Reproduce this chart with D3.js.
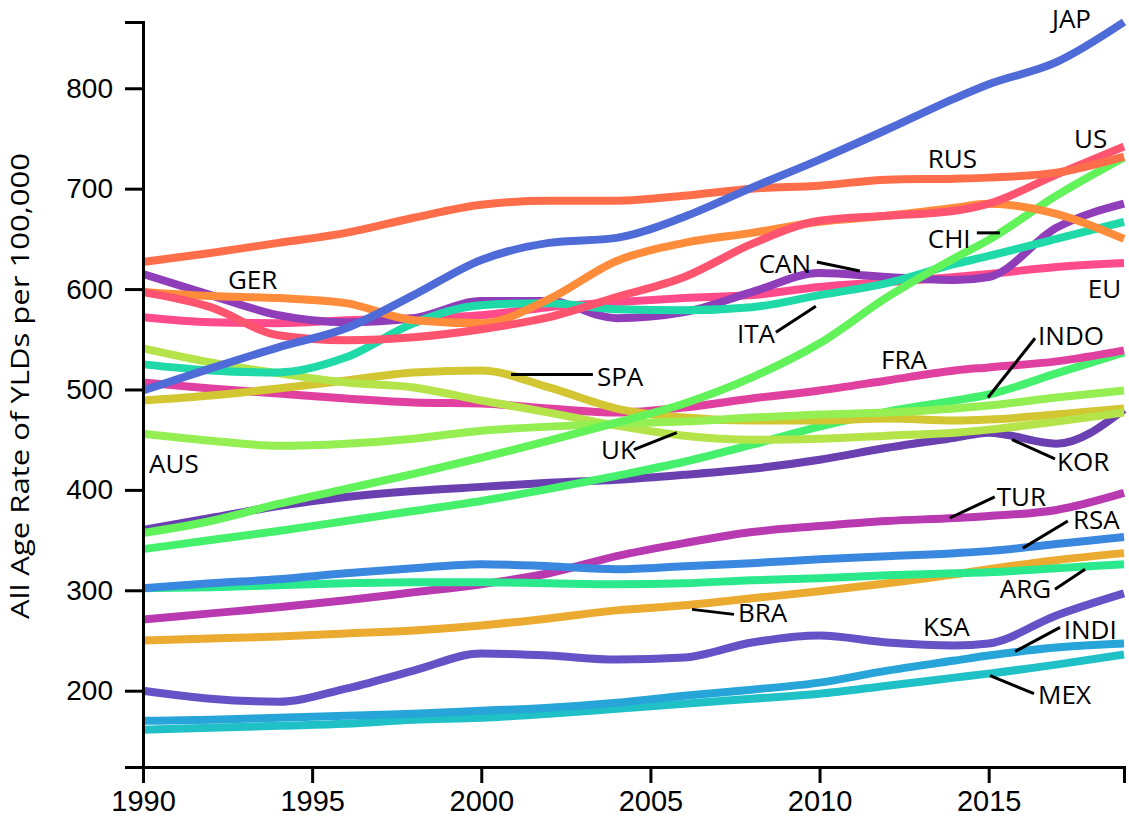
<!DOCTYPE html>
<html>
<head>
<meta charset="utf-8">
<script src="https://cdn.jsdelivr.net/npm/d3@7"></script>
<style>
  body { margin: 0; background: #fff; }
  .axis text { font-family: "Liberation Sans", Arial, sans-serif; fill: #000; }
  .axis path, .axis line { stroke: #000; stroke-width: 3; }
  .lbl { font-family: "Open Sans", sans-serif; font-size: 26px; fill: #000; }
</style>
</head>
<body>
<div id="chart"></div>
<script>
// years
var years = [1990, 1992, 1994, 1996, 1998, 2000, 2002, 2004, 2006, 2008, 2010, 2012, 2014, 2015, 2017, 2019];

// all-age YLD rate per 100,000, one array per country
var ARG  = [302, 303, 305, 307, 308, 308, 307, 306, 307, 310, 312, 315, 317, 318, 322, 326];
var RSA  = [302, 307, 311, 317, 322, 326, 324, 321, 324, 327, 331, 334, 337, 339, 346, 353];
var TUR  = [271, 277, 283, 290, 298, 306, 317, 334, 347, 358, 364, 369, 372, 374, 380, 397];
var BRA  = [250, 252, 254, 257, 260, 265, 272, 280, 285, 292, 299, 307, 316, 321, 330, 337];
var MEX  = [161, 163, 165, 167, 171, 173, 177, 182, 187, 192, 197, 205, 213, 217, 226, 236];
var INDI = [170, 171, 173, 175, 177, 180, 183, 188, 195, 201, 208, 220, 230, 235, 243, 247];
var KSA  = [200, 192, 189, 202, 220, 237, 235, 231, 233, 248, 255, 248, 245, 247, 275, 297];
var KOR  = [360, 372, 384, 393, 399, 403, 407, 410, 415, 421, 430, 442, 452, 457, 446, 480];
var INDO = [341, 350, 359, 369, 379, 389, 401, 414, 428, 445, 463, 478, 489, 495, 516, 537];
var CHI  = [357, 369, 386, 401, 416, 432, 449, 467, 486, 512, 546, 592, 631, 649, 693, 731];
var AUS  = [456, 449, 444, 446, 451, 459, 463, 466, 468, 472, 475, 477, 481, 484, 492, 499];
var SPA  = [489, 494, 501, 509, 517, 519, 502, 481, 472, 469, 469, 471, 469, 470, 475, 481];
var UK   = [541, 527, 516, 507, 502, 489, 477, 464, 454, 450, 451, 454, 457, 460, 468, 477];
var FRA  = [507, 501, 496, 491, 487, 486, 481, 477, 482, 491, 499, 509, 519, 522, 528, 539];
var ITA  = [525, 519, 517, 532, 566, 584, 586, 580, 579, 582, 594, 606, 625, 633, 650, 667];
var EU   = [572, 567, 566, 569, 571, 574, 582, 587, 591, 594, 602, 607, 612, 615, 622, 626];
var CAN  = [615, 594, 574, 567, 571, 588, 588, 571, 577, 597, 616, 612, 609, 612, 661, 685];
var GER  = [597, 593, 591, 586, 569, 566, 590, 628, 646, 656, 667, 673, 681, 685, 675, 650];
var US   = [597, 582, 554, 549, 552, 560, 572, 592, 612, 645, 668, 673, 678, 685, 714, 742];
var RUS  = [627, 636, 646, 656, 671, 684, 688, 688, 693, 700, 703, 709, 710, 711, 716, 732];
var JAP  = [499, 521, 542, 561, 594, 629, 646, 651, 672, 701, 729, 759, 790, 804, 826, 866];

var series = [
  {name: "MEX", values: MEX, color: "#1fc0c6"},
  {name: "INDI", values: INDI, color: "#28a5d8"},
  {name: "KSA", values: KSA, color: "#6552c7"},
  {name: "BRA", values: BRA, color: "#ebaa30"},
  {name: "TUR", values: TUR, color: "#b93ab0"},
  {name: "ARG", values: ARG, color: "#2ae88c"},
  {name: "RSA", values: RSA, color: "#3a87e0"},
  {name: "KOR", values: KOR, color: "#6a3faf"},
  {name: "INDO", values: INDO, color: "#45f06d"},
  {name: "FRA", values: FRA, color: "#e0409f"},
  {name: "SPA", values: SPA, color: "#d2c633"},
  {name: "UK", values: UK, color: "#b5e34a"},
  {name: "AUS", values: AUS, color: "#95ef52"},
  {name: "EU", values: EU, color: "#ff4a8c"},
  {name: "CAN", values: CAN, color: "#8f3db8"},
  {name: "ITA", values: ITA, color: "#1fd9a9"},
  {name: "CHI", values: CHI, color: "#62f25a"},
  {name: "GER", values: GER, color: "#ff8c3a"},
  {name: "US", values: US, color: "#ff5470"},
  {name: "RUS", values: RUS, color: "#ff6e4a"},
  {name: "JAP", values: JAP, color: "#4f6bd8"}
];

// country names placed in data units (year, rate); leader = [x1, y1, x2, y2]
var labels = [
  {t: "JAP",  x: 2016.87, y: 860},
  {t: "US",   x: 2017.52, y: 741},
  {t: "RUS",  x: 2013.2,  y: 721},
  {t: "CHI",  x: 2013.2,  y: 641, leader: [2014.65, 656, 2015.33, 656]},
  {t: "CAN",  x: 2008.2,  y: 616, leader: [2009.92, 627, 2011.19, 618]},
  {t: "EU",   x: 2017.93, y: 591},
  {t: "GER",  x: 1992.51, y: 600},
  {t: "ITA",  x: 2007.56, y: 546, leader: [2008.71, 557, 2009.89, 583]},
  {t: "INDO", x: 2016.46, y: 544, leader: [2016.37, 551, 2014.98, 492]},
  {t: "FRA",  x: 2011.82, y: 520},
  {t: "SPA",  x: 2003.42, y: 503, leader: [2000.88, 515, 2003.3, 515]},
  {t: "UK",   x: 2003.54, y: 431, leader: [2004.51, 440, 2005.78, 457]},
  {t: "AUS",  x: 1990.18, y: 417},
  {t: "KOR",  x: 2017.02, y: 419, leader: [2015.69, 450, 2016.96, 431]},
  {t: "TUR",  x: 2015.24, y: 384, leader: [2013.85, 372, 2015.18, 393]},
  {t: "RSA",  x: 2017.49, y: 361, leader: [2017.34, 369, 2016.01, 342]},
  {t: "ARG",  x: 2015.33, y: 292, leader: [2016.96, 301, 2017.85, 321]},
  {t: "BRA",  x: 2007.59, y: 268, leader: [2006.23, 281, 2007.47, 276]},
  {t: "KSA",  x: 2013.06, y: 254},
  {t: "INDI", x: 2017.22, y: 251, leader: [2017.11, 263, 2015.78, 239]},
  {t: "MEX",  x: 2016.46, y: 187, leader: [2016.34, 197, 2015.04, 215]}
];

var width = 1129, height = 817;
var margin = {top: 22, right: 5, bottom: 50, left: 143};

var svg = d3.select("#chart").append("svg")
    .attr("width", width)
    .attr("height", height);

var x = d3.scaleLinear().domain([1990, 2019]).range([margin.left, width - margin.right]);
var y = d3.scaleLinear().domain([124, 866]).range([height - margin.bottom, margin.top]);

var line = d3.line()
    .x(function(d, i) { return x(years[i]); })
    .y(function(d) { return y(d); })
    .curve(d3.curveMonotoneX);

svg.append("g").selectAll("path")
    .data(series)
    .enter()
    .append("path")
      .attr("d", function(d) { return line(d.values); })
      .attr("fill", "none")
      .attr("stroke", function(d) { return d.color; })
      .attr("stroke-width", 8)
      .attr("stroke-linejoin", "round");

// axes
var yAxis = svg.append("g")
    .attr("class", "axis")
    .attr("transform", "translate(" + margin.left + ",0)")
    .call(d3.axisLeft(y).tickValues([200, 300, 400, 500, 600, 700, 800]).tickSize(18).tickPadding(12));
yAxis.selectAll("text").style("font-size", "28px");

var xAxis = svg.append("g")
    .attr("class", "axis")
    .attr("transform", "translate(0," + (height - margin.bottom) + ")")
    .call(d3.axisBottom(x).tickValues([1990, 1995, 2000, 2005, 2010, 2015]).tickFormat(d3.format("d")).tickSize(16).tickPadding(7));
xAxis.selectAll("text").style("font-size", "29px");

svg.append("text")
    .attr("class", "lbl")
    .attr("transform", "translate(29,386) rotate(-90)")
    .attr("text-anchor", "middle")
    .attr("textLength", 466)
    .attr("lengthAdjust", "spacingAndGlyphs")
    .style("font-size", "26px")
    .text("All Age Rate of YLDs per 100,000");

// country labels + leader lines
var ann = svg.append("g");
ann.selectAll("line")
    .data(labels.filter(function(d) { return d.leader; }))
    .enter()
    .append("line")
      .attr("x1", function(d) { return x(d.leader[0]); })
      .attr("y1", function(d) { return y(d.leader[1]); })
      .attr("x2", function(d) { return x(d.leader[2]); })
      .attr("y2", function(d) { return y(d.leader[3]); })
      .attr("stroke", "#000")
      .attr("stroke-width", 3);

ann.selectAll("text")
    .data(labels)
    .enter()
    .append("text")
      .attr("class", "lbl")
      .attr("x", function(d) { return x(d.x); })
      .attr("y", function(d) { return y(d.y); })
      .text(function(d) { return d.t; });
</script>
</body>
</html>
